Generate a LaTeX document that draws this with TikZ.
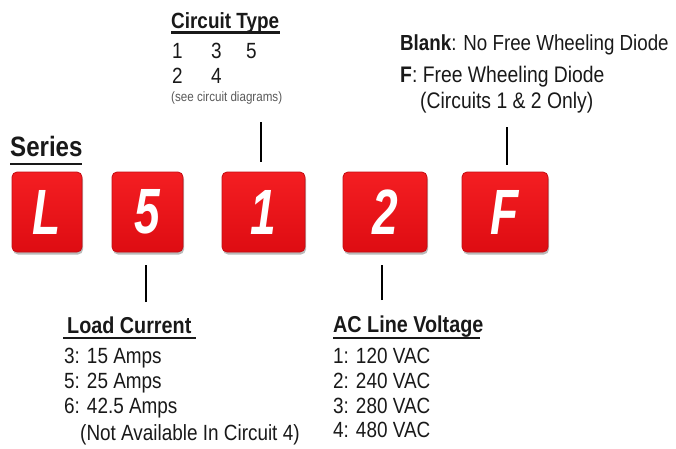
\documentclass[tikz,border=0pt]{standalone}
\usepackage{fontspec}
\setmainfont{Liberation Sans}[FakeStretch=0.86]
\newfontfamily\boxfont{Liberation Sans}[FakeStretch=0.72]
\usetikzlibrary{shadows}
\definecolor{boxtop}{RGB}{244,30,34}
\definecolor{boxbot}{RGB}{222,12,18}
\definecolor{boxedge}{RGB}{196,12,18}
\definecolor{ink}{RGB}{25,25,25}
\tikzset{
  codebox/.style={rectangle, rounded corners=5pt, top color=boxtop, bottom color=boxbot,
    draw=boxedge, line width=0.8pt,
    minimum height=80pt, inner sep=0pt, text=white,
    font=\boxfont\bfseries\itshape\fontsize{64}{64}\selectfont,
    drop shadow={shadow xshift=1pt, shadow yshift=-2.5pt, fill=black!45, opacity=0.6}},
  txt/.style={anchor=base west, inner sep=0pt, text=ink},
  head/.style={txt, font=\bfseries\fontsize{22.5}{22.5}\selectfont},
  item/.style={txt, font=\fontsize{22}{22}\selectfont},
  dtxt/.style={txt, font=\fontsize{22.5}{22.5}\selectfont},
  uline/.style={draw=ink, line width=2.2pt},
  stub/.style={draw=black, line width=2pt},
}
\begin{document}
\begin{tikzpicture}[x=1pt,y=-1pt]
\useasboundingbox (0,0) rectangle (676,448);
% code boxes
\node[codebox, minimum width=70pt] (bL) at (47,212) {L};
\node[codebox, minimum width=71pt] (b5) at (147.5,212) {5};
\node[codebox, minimum width=83pt] (b1) at (263.5,212) {1};
\node[codebox, minimum width=84pt] (b2) at (385,212) {2};
\node[codebox, minimum width=86pt] (bF) at (505,212) {F};
% Series
\node[txt, font=\bfseries\fontsize{28}{28}\selectfont] (series) at (10,156) {Series};
\draw[uline, line width=2.8pt] (10,164) -- (82,164);
% Circuit type
\node[head, font=\bfseries\fontsize{22}{22}\selectfont] (ct) at (171,28) {Circuit Type};
\draw[uline] (171,32.5) -- (280,32.5);
\node[item] (c1) at (172,58) {1};
\node[item] (c3) at (211,58) {3};
\node[item] (c5) at (246,58) {5};
\node[item] (c2) at (172,83) {2};
\node[item] (c4) at (211,83) {4};
\node[txt, text=black!65, font=\fontsize{13.5}{13.5}\selectfont] (see) at (171,101) {(see circuit diagrams)};
% Diode
\node[dtxt, font=\fontsize{21.8}{21.8}\selectfont] (d1) at (400,50) {\textbf{Blank}: No Free Wheeling Diode};
\node[dtxt] (d2) at (400,82) {\textbf{F}: Free Wheeling Diode};
\node[dtxt] (d3) at (420,108) {(Circuits 1 \& 2 Only)};
% Load current
\node[head, font=\bfseries\fontsize{23}{23}\selectfont] (lc) at (67,333) {Load Current};
\draw[uline] (63,338) -- (196,338);
\node[item] (l1) at (64,363) {3: 15 Amps};
\node[item] (l2) at (64,388) {5: 25 Amps};
\node[item] (l3) at (64,413) {6: 42.5 Amps};
\node[item] (l4) at (80,440) {(Not Available In Circuit 4)};
% AC line voltage
\node[head, font=\bfseries\fontsize{23}{23}\selectfont] (ac) at (333,332) {AC Line Voltage};
\draw[uline] (333,338) -- (480,338);
\node[item] (a1) at (333,363) {1: 120 VAC};
\node[item] (a2) at (333,388) {2: 240 VAC};
\node[item] (a3) at (333,413) {3: 280 VAC};
\node[item] (a4) at (333,437) {4: 480 VAC};
% stubs
\coordinate (s1) at (261,122);
\coordinate (sF) at (507,127);
\coordinate (s5) at (146,302);
\coordinate (s2) at (382,300);
\draw[stub] (s1) -- (s1 |- 0,162);
\draw[stub] (sF) -- (sF |- 0,165);
\draw[stub] (s5) -- (s5 |- 0,265);
\draw[stub] (s2) -- (s2 |- 0,265);
\end{tikzpicture}
\end{document}
